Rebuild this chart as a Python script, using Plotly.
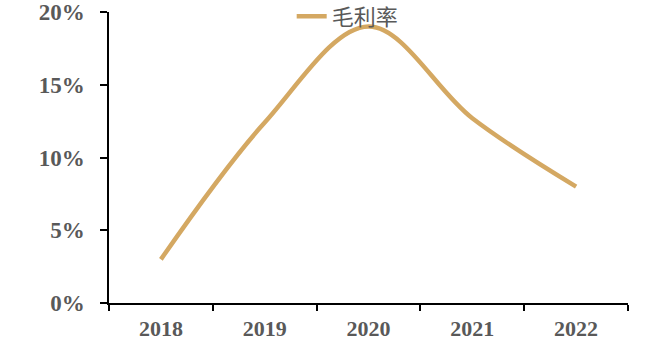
import plotly.graph_objects as go

years = ["2018", "2019", "2020", "2021", "2022"]
gross_margin = [3.0, 12.4, 19.0, 12.7, 8.0]
y_ticks = [0, 5, 10, 15, 20]
y_tick_labels = ["0%", "5%", "10%", "15%", "20%"]

fig = go.Figure()
fig.add_trace(go.Scatter(
    x=years,
    y=gross_margin,
    mode="lines",
    name="毛利率",
    line=dict(color="#D4A862", width=4.5, shape="spline", smoothing=1.0),
))

fig.update_layout(
    width=658,
    height=340,
    margin=dict(l=109, r=30, t=12, b=37, autoexpand=False),
    paper_bgcolor="white",
    plot_bgcolor="white",
    showlegend=True,
    legend=dict(
        orientation="h",
        x=0.352, y=0.985, xanchor="left", yanchor="middle",
        font=dict(family="Noto Sans CJK SC", size=22, color="#595959"),
        bgcolor="rgba(0,0,0,0)",
        itemwidth=30,
    ),
    xaxis=dict(
        type="category",
        range=[-0.5, 4.5],
        showline=True, linecolor="black", linewidth=1.5,
        ticks="outside", ticklen=6, tickcolor="black", tickwidth=1.5,
        tickson="boundaries",
        showgrid=False, zeroline=False,
        ticklabelstandoff=5,
        tickfont=dict(family="Liberation Serif", size=22, color="#595959", weight="bold"),
    ),
    yaxis=dict(
        range=[0, 20],
        tickvals=y_ticks, ticktext=y_tick_labels,
        showline=True, linecolor="black", linewidth=1.5,
        ticks="outside", ticklen=7, tickcolor="black", tickwidth=1.5,
        showgrid=False, zeroline=False,
        ticklabelstandoff=11,
        ticklabeloverflow="allow",
        tickfont=dict(family="Liberation Serif", size=23, color="#595959", weight="bold"),
    ),
)

fig.write_html("out.html")
